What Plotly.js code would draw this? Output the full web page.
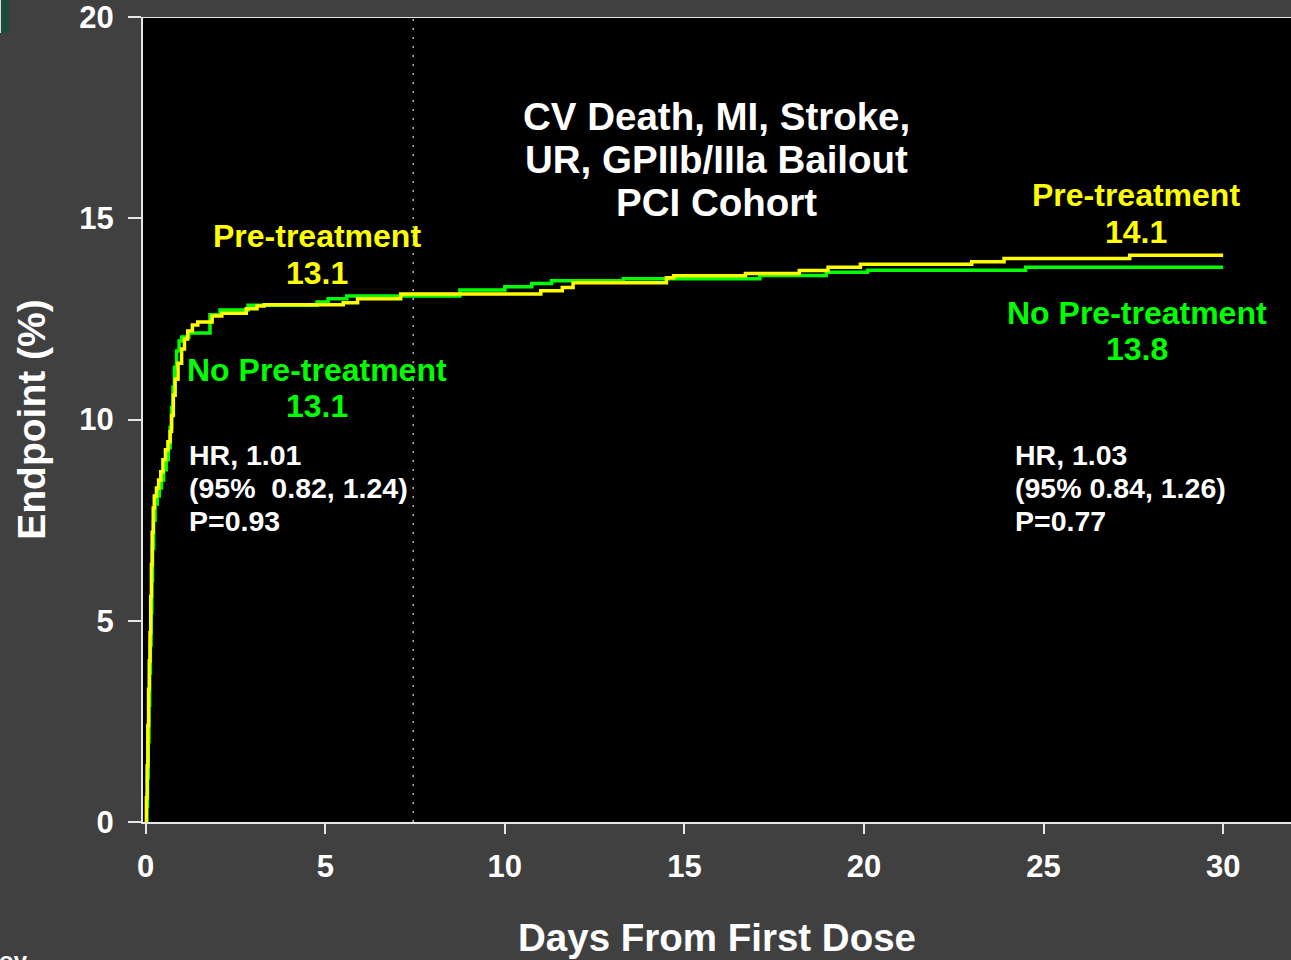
<!DOCTYPE html>
<html>
<head>
<meta charset="utf-8">
<script src="https://cdn.plot.ly/plotly-3.0.1.min.js"></script>
<style>html,body{margin:0;padding:0;background:#404040;}#chart{width:1291px;height:960px;}</style>
</head>
<body>
<div id="chart"></div>
<script>
// ---- data ----
const preDays = [0,0.02,0.04,0.06,0.08,0.1,0.12,0.14,0.16,0.18,0.21,0.24,0.3,0.36,0.42,0.48,0.55,0.62,0.68,0.72,0.77,0.82,0.9,1.0,1.08,1.17,1.3,1.45,1.85,2.12,2.8,3.1,3.3,5.5,5.9,7.1,11.0,11.6,11.9,14.5,14.7,16.7,18.2,19.0,19.9,23.0,23.9,27.4,30.0];
const prePct  = [0,0.6,1.4,2.4,3.3,4.0,4.7,5.6,6.4,7.2,7.8,8.1,8.3,8.5,8.7,9.0,9.25,9.45,9.7,10.1,10.6,11.0,11.4,11.75,12.0,12.2,12.35,12.42,12.57,12.64,12.75,12.82,12.85,12.9,13.0,13.12,13.2,13.28,13.4,13.52,13.57,13.63,13.7,13.78,13.86,13.92,14.0,14.08,14.08];
const noPreDays = [0,0.03,0.05,0.07,0.09,0.11,0.13,0.15,0.17,0.19,0.22,0.26,0.32,0.38,0.44,0.5,0.57,0.63,0.68,0.72,0.76,0.8,0.86,0.93,1.0,1.2,1.79,2.07,2.85,4.77,5.08,5.6,8.75,10.0,10.75,11.3,13.3,17.1,18.95,20.1,24.5,30.0];
const noPrePct  = [0,0.4,1.1,2.0,2.9,3.7,4.4,5.2,6.0,6.8,7.5,7.9,8.1,8.3,8.5,8.75,9.0,9.3,9.8,10.3,10.8,11.3,11.7,11.95,12.05,12.15,12.6,12.72,12.84,12.92,13.0,13.07,13.22,13.3,13.38,13.45,13.5,13.58,13.66,13.71,13.78,13.78];

const xTicks = [0,5,10,15,20,25,30];
const yTicks = [0,5,10,15,20];
const xTitle = "Days From First Dose";
const yTitle = "Endpoint (%)";
const titleLines = ["CV Death, MI, Stroke,", "UR, GPIIb/IIIa Bailout", "PCI Cohort"];
const seriesNames = ["Pre-treatment", "No Pre-treatment"];
const earlyValues = ["13.1", "13.1"];
const lateValues = ["14.1", "13.8"];
const hrEarly = ["HR, 1.01", "(95%\u00A0\u00A00.82, 1.24)", "P=0.93"];
const hrLate = ["HR, 1.03", "(95% 0.84, 1.26)", "P=0.77"];
const footerFragment = "ov";
const landmarkDay = 7.45;

// ---- styling ----
const FONT = "Liberation Sans, Arial, sans-serif";
const YEL = "#ffff00", GRN = "#00ff00", AX = "#e6e6e6";

const traces = [
  {x: noPreDays, y: noPrePct, mode: "lines", line: {shape: "hv", color: GRN, width: 3.5}, name: seriesNames[1], hoverinfo: "skip"},
  {x: preDays, y: prePct, mode: "lines", line: {shape: "hv", color: YEL, width: 3.5}, name: seriesNames[0], hoverinfo: "skip"}
];

function ann(text, x, y, color, size, xanchor) {
  return {text: text, x: x, y: y, xref: "x", yref: "y", showarrow: false,
    xanchor: xanchor || "center", yanchor: "middle",
    font: {family: FONT, size: size, color: color, weight: 700}};
}
const annotations = [];
titleLines.forEach((t, i) => annotations.push(ann(t, 15.88, [17.54, 16.47, 15.38][i], "#ffffff", 38.5)));
annotations.push(ann(seriesNames[0], 4.77, 14.56, YEL, 32));
annotations.push(ann(earlyValues[0], 4.77, 13.64, YEL, 32));
annotations.push(ann(seriesNames[1], 4.77, 11.23, GRN, 32));
annotations.push(ann(earlyValues[1], 4.77, 10.34, GRN, 32));
hrEarly.forEach((t, i) => annotations.push(ann(t, 1.15, [9.12, 8.30, 7.48][i], "#ffffff", 28.5, "left")));
annotations.push(ann(seriesNames[0], 27.58, 15.58, YEL, 32));
annotations.push(ann(lateValues[0], 27.58, 14.66, YEL, 32));
annotations.push(ann(seriesNames[1], 27.6, 12.65, GRN, 32));
annotations.push(ann(lateValues[1], 27.6, 11.75, GRN, 32));
hrLate.forEach((t, i) => annotations.push(ann(t, 24.15, [9.12, 8.30, 7.48][i], "#ffffff", 28.5, "left")));
annotations.push({text: footerFragment, xref: "paper", yref: "paper", x: -0.1275, y: -0.1534,
  xanchor: "left", yanchor: "top", showarrow: false,
  font: {family: FONT, size: 24, color: "#ffffff", weight: 700}});

const shapes = [
  {type: "line", xref: "x", yref: "y", x0: landmarkDay, x1: landmarkDay, y0: 0, y1: 20,
   line: {color: "#b0b0b0", width: 1.5, dash: "2px,7px"}},
  {type: "line", xref: "paper", yref: "y", x0: 0, x1: 1, y0: 20, y1: 20, line: {color: AX, width: 2}},
  // slide artefact at the top-left corner
  {type: "rect", xref: "paper", yref: "paper", x0: -0.1246, x1: -0.1167, y0: 0.980, y1: 1.03,
   fillcolor: "#1d4a39", line: {width: 0}},
  {type: "rect", xref: "paper", yref: "paper", x0: -0.1246, x1: -0.1237, y0: 0.980, y1: 1.03,
   fillcolor: "#dddddd", line: {width: 0}}
];

const layout = {
  width: 1291, height: 960,
  margin: {l: 143, r: 0, t: 17, b: 138, pad: 0},
  paper_bgcolor: "#404040", plot_bgcolor: "#000000",
  showlegend: false,
  xaxis: {range: [-0.075, 31.89], tickvals: xTicks, ticktext: xTicks.map(String),
    ticks: "outside", ticklen: 10, tickwidth: 2, tickcolor: AX,
    showline: true, linecolor: AX, linewidth: 2, showgrid: false, zeroline: false,
    tickfont: {family: FONT, size: 31, color: "#ffffff", weight: 700}, ticklabelstandoff: 6,
    ticklabeloverflow: "allow",
    title: {text: xTitle, font: {family: FONT, size: 38.5, color: "#ffffff", weight: 700}, standoff: 41}},
  yaxis: {range: [0, 20], tickvals: yTicks, ticktext: yTicks.map(String),
    ticks: "outside", ticklen: 13, tickwidth: 2, tickcolor: AX,
    showline: true, linecolor: AX, linewidth: 2, showgrid: false, zeroline: false,
    tickfont: {family: FONT, size: 31, color: "#ffffff", weight: 700}, ticklabelstandoff: 8,
    ticklabeloverflow: "allow",
    title: {text: yTitle, font: {family: FONT, size: 39, color: "#ffffff", weight: 700}, standoff: 22}},
  annotations: annotations,
  shapes: shapes
};

Plotly.newPlot("chart", traces, layout, {displayModeBar: false, staticPlot: true});
</script>
</body>
</html>
